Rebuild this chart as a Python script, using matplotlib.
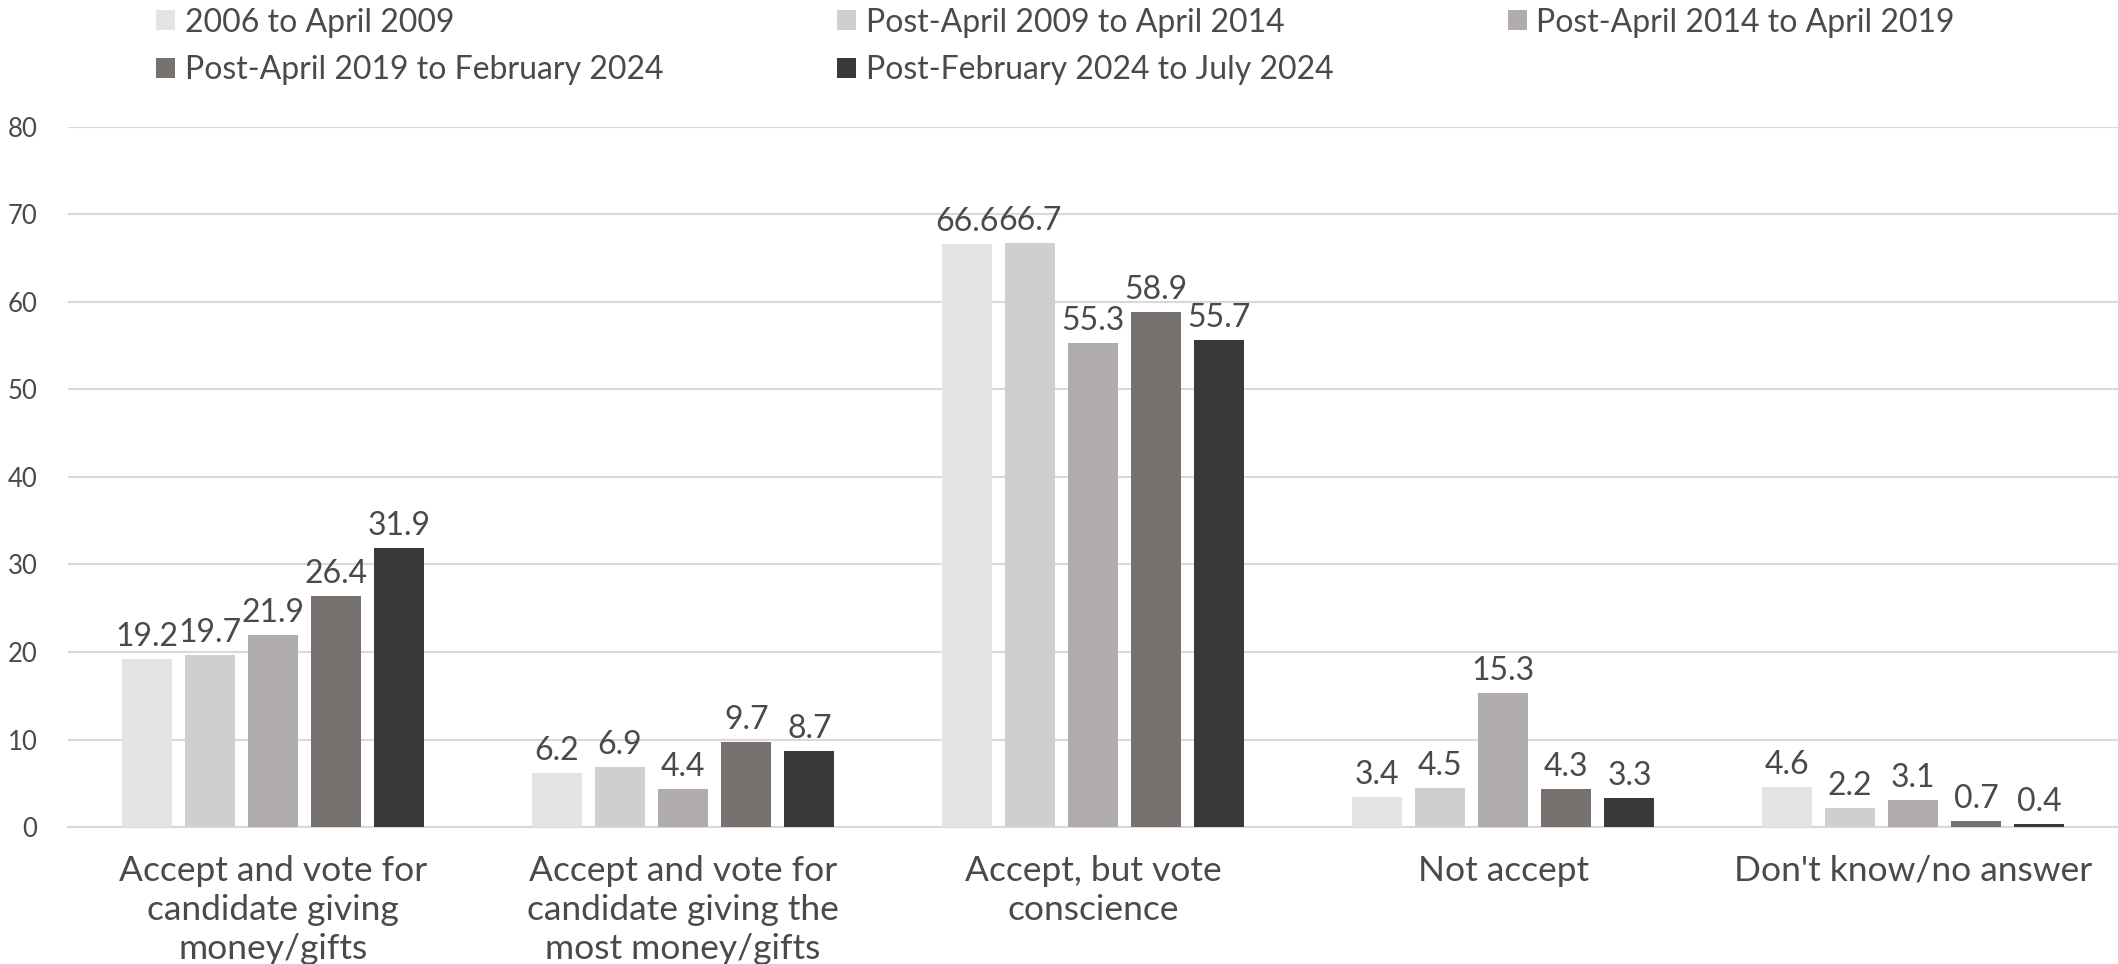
import numpy as np
import matplotlib.pyplot as plt
from matplotlib.patches import Patch

# Data
categories = [
    "Accept and vote for\ncandidate giving\nmoney/gifts",
    "Accept and vote for\ncandidate giving the\nmost money/gifts",
    "Accept, but vote\nconscience",
    "Not accept",
    "Don't know/no answer",
]
periods = [
    "2006 to April 2009",
    "Post-April 2009 to April 2014",
    "Post-April 2014 to April 2019",
    "Post-April 2019 to February 2024",
    "Post-February 2024 to July 2024",
]
p2006_2009 = [19.2, 6.2, 66.6, 3.4, 4.6]
p2009_2014 = [19.7, 6.9, 66.7, 4.5, 2.2]
p2014_2019 = [21.9, 4.4, 55.3, 15.3, 3.1]
p2019_2024 = [26.4, 9.7, 58.9, 4.3, 0.7]
p2024 = [31.9, 8.7, 55.7, 3.3, 0.4]
series = [p2006_2009, p2009_2014, p2014_2019, p2019_2024, p2024]
colors = ["#E4E4E4", "#D0CECF", "#AFACAB", "#76716F", "#3A3937"]

plt.rcParams['font.family'] = ['Lato', 'DejaVu Sans']
text_color = "#4A4A4A"

fig = plt.figure(figsize=(21.18, 9.64), dpi=100)
ax = fig.add_axes([0.0321, 0.1421, 0.968, 0.7262])

x = np.arange(len(categories))
step = 0.154
width = 0.122
for j, (vals, col) in enumerate(zip(series, colors)):
    xs = x + (j - 2) * step
    bars = ax.bar(xs, vals, width=width, color=col, zorder=3)
    for b, v in zip(bars, vals):
        ax.annotate(f"{v:.1f}", (b.get_x() + b.get_width() / 2, v),
                    xytext=(0, 5), textcoords="offset points",
                    ha="center", va="bottom", fontsize=23, color=text_color)

ax.set_xlim(-0.5, len(categories) - 0.5)
ax.set_ylim(0, 80)
ax.set_yticks(range(0, 81, 10))
ax.yaxis.grid(True, color="#D9D9D9", linewidth=1.5, zorder=0)
ax.set_xticks(x)
ax.set_xticklabels(categories, fontsize=25.5, color=text_color, linespacing=1.27)
ax.tick_params(axis="x", length=0, pad=20)
ax.tick_params(axis="y", length=0, pad=22, labelsize=18.5, labelcolor=text_color)
for s in ["top", "right", "left"]:
    ax.spines[s].set_visible(False)
ax.spines["bottom"].set_color("#D9D9D9")
ax.spines["bottom"].set_linewidth(1.5)

handles = [Patch(facecolor=c, label=l) for c, l in zip(colors, periods)]
order = [0, 3, 1, 4, 2]
fig.legend([handles[i] for i in order], [periods[i] for i in order],
           ncol=3, loc="upper left", bbox_to_anchor=(0.060, 1.022),
           frameon=False, fontsize=23, labelcolor=text_color,
           handlelength=0.6, handleheight=0.6, handletextpad=0.3,
           columnspacing=5.45, labelspacing=0.55)

fig.savefig("out.png", dpi=100)
